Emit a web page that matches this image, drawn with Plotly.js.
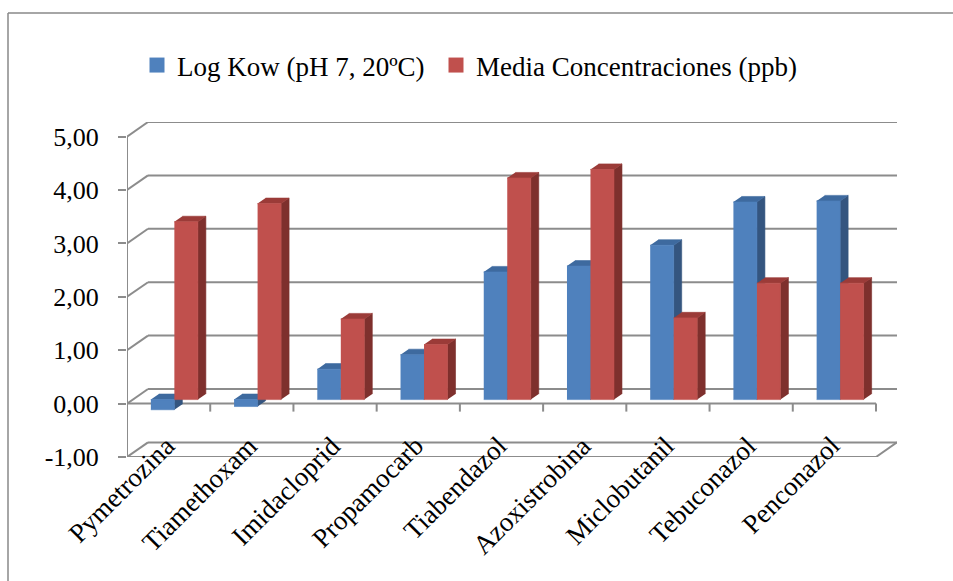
<!DOCTYPE html>
<html>
<head>
<meta charset="utf-8">
<script src="https://cdn.plot.ly/plotly-3.0.1.min.js"></script>
<style>
  html, body { margin: 0; padding: 0; background: #ffffff; }
  #chart { width: 953px; height: 581px; }
</style>
</head>
<body>
<div id="chart"></div>
<script>
// ---- data ----
const categories = ['Pymetrozina', 'Tiamethoxam', 'Imidacloprid', 'Propamocarb', 'Tiabendazol',
                    'Azoxistrobina', 'Miclobutanil', 'Tebuconazol', 'Penconazol'];
const logKow    = [-0.19, -0.13, 0.57, 0.84, 2.39, 2.50, 2.89, 3.70, 3.72];
const mediaConc = [ 3.33,  3.67, 1.51, 1.03, 4.15, 4.31, 1.53, 2.18, 2.18];
const seriesNames = ['Log Kow (pH 7, 20ºC)', 'Media Concentraciones (ppb)'];
const yTicks = [-1, 0, 1, 2, 3, 4, 5];

// ---- geometry of the pseudo-3D box ----
const W = 953, H = 581;
const M = { l: 127, r: 56, t: 122, b: 124 };
const PW = W - M.l - M.r, PH = H - M.t - M.b;
const N = categories.length;
const yMin = yTicks[0], yMax = yTicks[yTicks.length - 1];
const depthPx = { x: 21, y: 14.6 };              // screen offset of the back wall
const pxPerX = (PW - depthPx.x) / N;
const pxPerY = (PH - depthPx.y) / (yMax - yMin);
const DX = depthPx.x / pxPerX, DY = depthPx.y / pxPerY;
const barW = 23.5 / pxPerX;                        // width of one column
const dFront = 0.274, dBack = 0.655;               // column depth inside the box

// project a point (x, value, depth 0..1) onto the front plane
function proj(x, v, d) { return [x + d * DX, v + d * DY]; }

const FONT = 'Liberation Serif, Times New Roman, serif';
const GRID = '#8c8c8c';

const series = [
  { name: seriesNames[0], values: logKow,    side: -1, legend: 'legend',
    front: '#4F81BD', top: '#3E6A9F', right: '#34557F' },
  { name: seriesNames[1], values: mediaConc, side: 1, legend: 'legend2',
    front: '#C0504D', top: '#9B3B38', right: '#7E302D' }
];

function facePolys(s) {
  const faces = { front: { x: [], y: [] }, top: { x: [], y: [] }, right: { x: [], y: [] } };
  function add(face, pts) {
    pts.forEach(p => { const q = proj(p[0], p[1], p[2]); faces[face].x.push(q[0]); faces[face].y.push(q[1]); });
    faces[face].x.push(null); faces[face].y.push(null);
  }
  s.values.forEach((v, i) => {
    const c = i + 0.5;
    const x0 = s.side < 0 ? c - barW : c;
    const x1 = x0 + barW;
    const lo = Math.min(0, v), hi = Math.max(0, v);
    add('right', [[x1, lo, dFront], [x1, hi, dFront], [x1, hi, dBack], [x1, lo, dBack]]);
    add('top',   [[x0, hi, dFront], [x1, hi, dFront], [x1, hi, dBack], [x0, hi, dBack]]);
    add('front', [[x0, lo, dFront], [x1, lo, dFront], [x1, hi, dFront], [x0, hi, dFront]]);
  });
  return faces;
}

const traces = [];
// legend entries
series.forEach(s => {
  traces.push({
    type: 'scatter', mode: 'markers', x: [null], y: [null], name: s.name, legend: s.legend,
    marker: { symbol: 'square', size: 15, color: s.front }, hoverinfo: 'skip'
  });
});
// column faces
series.forEach(s => {
  const f = facePolys(s);
  ['right', 'top', 'front'].forEach(k => {
    traces.push({
      type: 'scatter', mode: 'lines', x: f[k].x, y: f[k].y, fill: 'toself',
      fillcolor: s[k], line: { color: s[k], width: 0.6 },
      showlegend: false, hoverinfo: 'skip'
    });
  });
});

// ---- box lines ----
const shapes = [];
function seg(a, b, extra) {
  shapes.push(Object.assign({ type: 'line', xref: 'x', yref: 'y', layer: 'below',
    x0: a[0], y0: a[1], x1: b[0], y1: b[1], line: { color: GRID, width: 2 } }, extra || {}));
}
yTicks.forEach(v => {
  seg(proj(0, v, 1), proj(N, v, 1));      // back wall gridline
  seg(proj(0, v, 0), proj(0, v, 1));      // left wall connector
});
seg([0, yMin], [0, yMax]);                 // vertical axis
seg([0, 0], [N, 0]);                       // category axis at zero
const tickLen = 8 / pxPerY;
for (let k = 1; k <= N; k++) seg([k, 0], [k, -tickLen]);
seg([0, yMin], [N, yMin]);                 // floor front edge
seg([N, yMin], proj(N, yMin, 1));          // floor right edge

// outer frame (pixel positions converted to paper coordinates)
function px2paperX(px) { return (px - M.l) / PW; }
function px2paperY(py) { return 1 - (py - M.t) / PH; }
shapes.push({ type: 'line', xref: 'paper', yref: 'paper', layer: 'below',
  x0: px2paperX(8), y0: px2paperY(13), x1: px2paperX(W + 2), y1: px2paperY(13),
  line: { color: '#898989', width: 1.5 } });
shapes.push({ type: 'line', xref: 'paper', yref: 'paper', layer: 'below',
  x0: px2paperX(8), y0: px2paperY(13), x1: px2paperX(8), y1: px2paperY(H + 2),
  line: { color: '#898989', width: 1.5 } });

// category labels
const labelDx = 14 / pxPerX, labelY = -(428 - (M.t + depthPx.y + yMax * pxPerY)) / pxPerY;
const annotations = categories.map((c, i) => ({
  x: i + 0.5 + labelDx, y: labelY, xref: 'x', yref: 'y', text: c, showarrow: false,
  textangle: -45, xanchor: 'right', yanchor: 'top',
  font: { family: FONT, size: 27, color: '#000000' }
}));

const legendBase = {
  orientation: 'h', xanchor: 'left', y: px2paperY(41), yanchor: 'top',
  font: { family: FONT, size: 27, color: '#000000' },
  itemwidth: 30, bgcolor: 'rgba(0,0,0,0)'
};

const layout = {
  width: W, height: H,
  margin: M,
  paper_bgcolor: '#ffffff', plot_bgcolor: 'rgba(0,0,0,0)',
  showlegend: true,
  legend:  Object.assign({}, legendBase, { x: px2paperX(137) }),
  legend2: Object.assign({}, legendBase, { x: px2paperX(436) }),
  xaxis: { range: [0, N + DX], showgrid: false, zeroline: false, showline: false,
           showticklabels: false, ticks: '', fixedrange: true },
  yaxis: { range: [yMin, yMax + DY], showgrid: false, zeroline: false, showline: false,
           tickvals: yTicks, ticktext: yTicks.map(v => v.toFixed(2).replace('.', ',')),
           ticks: 'outside', ticklen: 8, tickwidth: 2, tickcolor: GRID,
           ticklabelstandoff: 14,
           tickfont: { family: FONT, size: 26, color: '#000000' }, fixedrange: true },
  shapes: shapes,
  annotations: annotations
};

Plotly.newPlot('chart', traces, layout, { displayModeBar: false, staticPlot: true });
</script>
</body>
</html>
